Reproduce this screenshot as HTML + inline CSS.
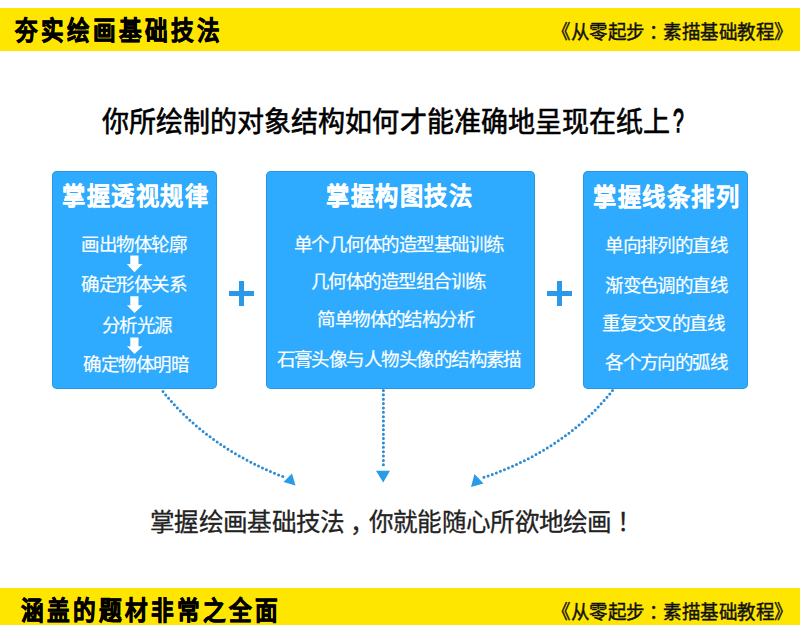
<!DOCTYPE html>
<html lang="zh-CN">
<head>
<meta charset="utf-8">
<style>
html,body{margin:0;padding:0;}
body{width:800px;height:625px;overflow:hidden;background:#fff;position:relative;font-family:"Liberation Sans",sans-serif;color:#111;}
.bar{position:absolute;left:0;width:800px;height:43px;background:#ffe600;}
.bar .t{position:absolute;left:12.5px;top:2px;font-size:26px;font-weight:900;-webkit-text-stroke:0.7px #000;letter-spacing:-0.4px;line-height:43px;color:#000;white-space:nowrap;}
.bar .r{position:absolute;left:552px;top:1px;font-size:18.5px;letter-spacing:-0.5px;-webkit-text-stroke:0.4px #111;transform:scaleY(1.06);transform-origin:0 0;line-height:43px;color:#111;white-space:nowrap;}
.q{position:absolute;left:101.5px;top:101px;font-size:27px;letter-spacing:0.1px;transform:scaleY(1.07);transform-origin:0 0;line-height:40px;font-weight:400;-webkit-text-stroke:0.6px #000;color:#000;white-space:nowrap;}
.box{position:absolute;top:171px;height:218px;background:#2eabfe;border-radius:5px;color:#fff;box-shadow:inset 0 0 0 1px rgba(30,140,215,0.6);}
.it{position:absolute;left:0;right:0;text-align:center;font-size:18.5px;letter-spacing:-1.55px;text-indent:-1.55px;line-height:20px;white-space:nowrap;-webkit-text-stroke:0.2px #fff;}
.it.h{font-size:25px;letter-spacing:-0.5px;text-indent:0;line-height:30px;font-weight:700;-webkit-text-stroke:0.3px #fff;}
.plus{position:absolute;background:#2a9ae8;}
.bottom{position:absolute;left:150px;top:507px;font-size:24.6px;letter-spacing:-0.7px;-webkit-text-stroke:0.3px #222;line-height:32px;color:#222;white-space:nowrap;}
.qm{display:inline-block;-webkit-text-stroke:1px #000;transform:scale(0.72,1.18);transform-origin:0 78%;margin-left:2px;}
.col{position:relative;left:4.5px;}
.cm{position:relative;left:5.5px;top:1px;}
.ex{position:relative;left:5px;-webkit-text-stroke:0.3px #222;}
.g{display:inline-block;transform:scaleX(0.87);letter-spacing:0;}
.g2{display:inline-block;transform:scaleX(0.93);}
</style>
</head>
<body>
<div class="bar" style="top:8px">
  <div class="t"><span class="g">夯</span><span class="g">实</span><span class="g">绘</span><span class="g">画</span><span class="g">基</span><span class="g">础</span><span class="g">技</span><span class="g">法</span></div>
  <div class="r">《从零起步<span class="col">：</span>素描基础教程》</div>
</div>

<div class="q">你所绘制的对象结构如何才能准确地呈现在纸上<span class="qm">?</span></div>

<div class="box" style="left:52px;width:165px;">
  <div class="it h" style="top:10px"><span class="g2">掌</span><span class="g2">握</span><span class="g2">透</span><span class="g2">视</span><span class="g2">规</span><span class="g2">律</span></div>
  <div class="it" style="top:64px">画出物体轮廓</div>
  <div class="it" style="top:103.5px">确定形体关系</div>
  <div class="it" style="top:144.5px;left:3px;right:-3px">分析光源</div>
  <div class="it" style="top:184px;left:2px;right:-2px">确定物体明暗</div>
</div>

<div class="box" style="left:266px;width:269px;">
  <div class="it h" style="top:10px;left:-2px;right:2px"><span class="g2">掌</span><span class="g2">握</span><span class="g2">构</span><span class="g2">图</span><span class="g2">技</span><span class="g2">法</span></div>
  <div class="it" style="top:63.5px;left:-1px;right:1px">单个几何体的造型基础训练</div>
  <div class="it" style="top:101px;left:-1.5px;right:1.5px">几何体的造型组合训练</div>
  <div class="it" style="top:138.5px;left:-4px;right:4px">简单物体的结构分析</div>
  <div class="it" style="top:179px;left:-1px;right:1px">石膏头像与人物头像的结构素描</div>
</div>

<div class="box" style="left:583px;width:165px;">
  <div class="it h" style="top:11px"><span class="g2">掌</span><span class="g2">握</span><span class="g2">线</span><span class="g2">条</span><span class="g2">排</span><span class="g2">列</span></div>
  <div class="it" style="top:64.5px;left:1.5px;right:-1.5px">单向排列的直线</div>
  <div class="it" style="top:105px;left:1.5px;right:-1.5px">渐变色调的直线</div>
  <div class="it" style="top:143px;left:-1.5px;right:1.5px">重复交叉的直线</div>
  <div class="it" style="top:181.5px;left:1.5px;right:-1.5px">各个方向的弧线</div>
</div>

<div class="plus" style="left:229px;top:291px;width:25px;height:5px"></div>
<div class="plus" style="left:239px;top:281px;width:5px;height:25px"></div>
<div class="plus" style="left:547px;top:291px;width:25px;height:5px"></div>
<div class="plus" style="left:557px;top:281px;width:5px;height:25px"></div>

<svg width="800" height="625" style="position:absolute;left:0;top:0">
<g fill="#fff">
<polygon points="130.3,255.5 138.5,255.5 138.5,264 142.5,264 134.5,272.3 126.8,264 130.3,264"/>
<polygon points="130.3,296.3 138.5,296.3 138.5,305.3 142.6,305.3 134.5,313.1 127,305.3 130.3,305.3"/>
<polygon points="130.3,337.4 138.5,337.4 138.5,346.3 142.7,346.3 134.5,354.1 127,346.3 130.3,346.3"/>
</g>
<g fill="none" stroke="#2b8bd4" stroke-width="3" stroke-linecap="round" stroke-dasharray="0 4.37">
<path d="M163 391.5 Q208 447.9 285 477.5"/>
<path d="M612.5 390.5 Q565 450.4 482 478"/>
<path d="M383.4 390.5 L383.4 469"/>
</g>
<g fill="#2a9be6">
<polygon points="292,473.5 283.5,482 295.5,485.5"/>
<polygon points="474.5,474 483.5,483.5 471,487"/>
<polygon points="376,470.8 390,470.8 383.2,482.6"/>
</g>
</svg>

<div class="bottom">掌握绘画基础技法<span class="cm">，</span>你就能随心所欲地绘画<span class="ex">！</span></div>

<div class="bar" style="top:588px">
  <div class="t" style="left:18.5px"><span class="g">涵</span><span class="g">盖</span><span class="g">的</span><span class="g">题</span><span class="g">材</span><span class="g">非</span><span class="g">常</span><span class="g">之</span><span class="g">全</span><span class="g">面</span></div>
  <div class="r">《从零起步<span class="col">：</span>素描基础教程》</div>
</div>
</body>
</html>
